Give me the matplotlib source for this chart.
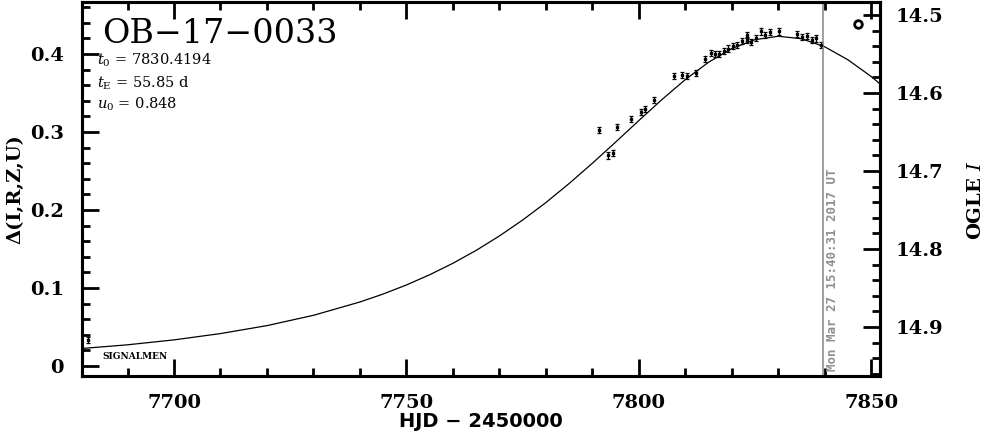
import numpy as np
import matplotlib
matplotlib.use('Agg')
import matplotlib.pyplot as plt
from matplotlib.ticker import MultipleLocator

plt.rcParams['font.family'] = 'DejaVu Serif'
plt.rcParams['mathtext.fontset'] = 'dejavuserif'

# photometry (HJD - 2450000, Delta mag)
hjd = [7681.5, 7791.5, 7793.4, 7794.5, 7795.4, 7798.4, 7800.4, 7801.4, 7803.3,
       7807.5, 7809.4, 7810.3, 7812.4, 7814.3, 7815.5, 7816.4, 7817.3, 7818.3,
       7819.1, 7820.2, 7821.2, 7822.3, 7823.2, 7823.3, 7824.2, 7825.3, 7826.4,
       7827.2, 7828.2, 7830.2, 7834.1, 7835.1, 7836.1, 7837.2, 7838.2, 7839.3]
dmag = [0.033, 0.303, 0.270, 0.273, 0.306, 0.317, 0.326, 0.330, 0.341,
        0.372, 0.373, 0.372, 0.376, 0.394, 0.401, 0.400, 0.400, 0.404,
        0.407, 0.410, 0.412, 0.417, 0.424, 0.418, 0.415, 0.421, 0.429,
        0.424, 0.428, 0.429, 0.426, 0.422, 0.423, 0.418, 0.420, 0.412]
derr = [0.004] * len(hjd)

# the single point from the other site (open circle)
hjd_o = [7847.2]
dmag_o = [0.438]

# model curve, values
model_t = [7680, 7690, 7700, 7710, 7720, 7730, 7740, 7745, 7750, 7755, 7760,
           7765, 7770, 7775, 7780, 7785, 7790, 7795, 7800, 7805, 7810, 7815,
           7820, 7825, 7830, 7835, 7840, 7845, 7850, 7855]
model_d = [0.0224, 0.0272, 0.0335, 0.0416, 0.0518, 0.0650, 0.0821, 0.0923,
           0.1039, 0.1170, 0.1317, 0.1482, 0.1667, 0.1871, 0.2095, 0.2339,
           0.2599, 0.2870, 0.3146, 0.3417, 0.3672, 0.3894, 0.4070, 0.4184,
           0.4228, 0.4196, 0.4093, 0.3926, 0.3712, 0.3462]

now_hjd = 7839.7
now_label = 'Mon Mar 27 15:40:31 2017 UT'
I_base = 14.95

fig = plt.figure(figsize=(9.85, 4.34), dpi=100)
ax = fig.add_axes([82 / 985, 1 - 376 / 434, 798 / 985, 374 / 434])

ax.plot(model_t, model_d, color='black', lw=0.9)
ax.errorbar(hjd, dmag, yerr=derr, fmt='s', ms=1.6, color='black',
            elinewidth=0.9, capsize=1.5, capthick=0.9)
ax.plot(hjd_o, dmag_o, 'o', ms=5.5, mfc='white', mec='black', mew=2)
ax.axvline(now_hjd, color='#909090', lw=1.2)
ax.text(now_hjd + 0.5, -0.006, now_label, rotation=90, color='#909090',
        family='DejaVu Sans Mono', fontsize=9, fontweight='bold',
        ha='left', va='bottom')

ax.set_xlim(7680.2, 7851.9)
ax.set_ylim(-0.0128, 0.4667)
ax.xaxis.set_major_locator(MultipleLocator(50))
ax.xaxis.set_minor_locator(MultipleLocator(10))
ax.yaxis.set_major_locator(MultipleLocator(0.1))
ax.yaxis.set_minor_locator(MultipleLocator(0.02))
ax.yaxis.set_major_formatter(plt.FuncFormatter(lambda v, p: '0' if abs(v) < 1e-9 else f'{v:.1f}'))
ax.tick_params(which='both', direction='in', top=True, right=False, width=2)
ax.tick_params(which='major', length=12, labelsize=14)
ax.tick_params(which='minor', length=6)
ax.tick_params(axis='x', which='major', pad=13)
ax.tick_params(axis='y', which='major', pad=13)
for lab in ax.get_xticklabels() + ax.get_yticklabels():
    lab.set_fontweight('bold')
for s in ax.spines.values():
    s.set_linewidth(2.2)

ax.set_xlabel('HJD \u2212 2450000', fontsize=14, fontweight='bold',
              family='DejaVu Sans', labelpad=0)
ax.set_ylabel('\u0394(I,R,Z,U)', fontsize=14, fontweight='bold', labelpad=4)

ax.text(0.025, 0.958, 'OB\u221217\u22120033', transform=ax.transAxes,
        fontsize=24, ha='left', va='top')
ax.text(0.019, 0.845, '$t_0$ = 7830.4194', transform=ax.transAxes, fontsize=10.5, va='center')
ax.text(0.019, 0.783, '$t_{\\rm E}$ = 55.85 d', transform=ax.transAxes, fontsize=10.5, va='center')
ax.text(0.019, 0.727, '$u_0$ = 0.848', transform=ax.transAxes, fontsize=10.5, va='center')
ax.text(0.026, 0.053, 'SIGNALMEN', transform=ax.transAxes, fontsize=6.5,
        fontweight='bold', va='center')

# magnitude axis on the right
ax2 = ax.twinx()
lo, hi = ax.get_ylim()
ax2.set_ylim(I_base - lo, I_base - hi)
ax2.yaxis.set_major_locator(MultipleLocator(0.1))
ax2.yaxis.set_minor_locator(MultipleLocator(0.02))
ax2.tick_params(which='both', direction='in', width=2)
ax2.tick_params(which='major', length=12, labelsize=14, pad=11)
ax2.tick_params(which='minor', length=6)
for lab in ax2.get_yticklabels():
    lab.set_fontweight('bold')
for s in ax2.spines.values():
    s.set_linewidth(2.2)
fig.text(976 / 985, 1 - 200 / 434, 'OGLE $\\mathbf{\\it{I}}$', fontsize=14,
         fontweight='bold', rotation=90, ha='center', va='center')

fig.savefig('out.png', dpi=100)
